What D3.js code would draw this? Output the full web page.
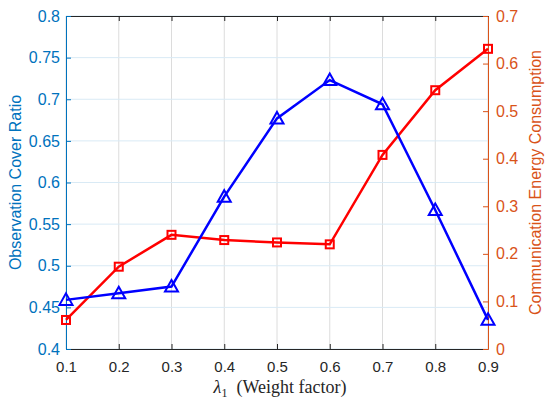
<!DOCTYPE html>
<html>
  <head>
    <script src="https://d3js.org/d3.v7.min.js"></script>
    <style>
      body { margin: 0; background: #fff; }
      svg { font-family: Helvetica, Arial, "Liberation Sans", sans-serif; }
    </style>
  </head>
  <body>
    <div id="chart"></div>
    <script>
      // Data
      const lambdas = [0.1, 0.2, 0.3, 0.4, 0.5, 0.6, 0.7, 0.8, 0.9];
      const coverRatio = [0.459, 0.467, 0.475, 0.583, 0.677, 0.723, 0.694, 0.567, 0.435];
      const energy = [0.061, 0.173, 0.240, 0.229, 0.224, 0.220, 0.408, 0.544, 0.631];
      const xTicks = [0.1, 0.2, 0.3, 0.4, 0.5, 0.6, 0.7, 0.8, 0.9];
      const leftTicks = [0.4, 0.45, 0.5, 0.55, 0.6, 0.65, 0.7, 0.75, 0.8];
      const rightTicks = [0, 0.1, 0.2, 0.3, 0.4, 0.5, 0.6, 0.7];

      const blueAxis = "#0072BD";
      const orangeAxis = "#D95319";

      const margin = { top: 16, right: 62, bottom: 56, left: 66 };
      const width = 550 - margin.left - margin.right;
      const height = 405 - margin.top - margin.bottom;

      const svg = d3.select("#chart")
        .append("svg")
        .attr("width", 550)
        .attr("height", 405)
        .append("g")
        .attr("transform", `translate(${margin.left}, ${margin.top})`);

      const x = d3.scaleLinear().domain([0.1, 0.9]).range([0, width]);
      const yL = d3.scaleLinear().domain([0.4, 0.8]).range([height, 0]);
      const yR = d3.scaleLinear().domain([0, 0.7]).range([height, 0]);

      // Grid
      svg.append("g").selectAll("line")
        .data(xTicks)
        .join("line")
        .attr("x1", d => x(d)).attr("x2", d => x(d))
        .attr("y1", 0).attr("y2", height)
        .attr("stroke", "#dcdcdc").attr("stroke-width", 1);

      svg.append("g").selectAll("line")
        .data(leftTicks)
        .join("line")
        .attr("x1", 0).attr("x2", width)
        .attr("y1", d => yL(d)).attr("y2", d => yL(d))
        .attr("stroke", "#d9eaf5").attr("stroke-width", 1);

      // Axes
      const xAxis = svg.append("g")
        .attr("transform", `translate(0, ${height})`)
        .call(d3.axisBottom(x).tickValues(xTicks).tickSize(-5).tickSizeOuter(0).tickPadding(12).tickFormat(d3.format(".1f")));
      xAxis.select(".domain").attr("stroke", "#262626");
      xAxis.selectAll(".tick line").attr("stroke", "#262626");
      xAxis.selectAll("text").attr("fill", "#262626").style("font-size", "15px");

      const xTop = svg.append("g")
        .call(d3.axisTop(x).tickValues(xTicks).tickSize(-5).tickSizeOuter(0).tickFormat(""));
      xTop.select(".domain").attr("stroke", "#262626");
      xTop.selectAll(".tick line").attr("stroke", "#262626");

      const leftAxis = svg.append("g")
        .call(d3.axisLeft(yL).tickValues(leftTicks).tickSize(-5).tickSizeOuter(0).tickPadding(6).tickFormat(d3.format("~g")));
      leftAxis.select(".domain").attr("stroke", blueAxis);
      leftAxis.selectAll(".tick line").attr("stroke", blueAxis);
      leftAxis.selectAll("text").attr("fill", blueAxis).style("font-size", "16px");

      const rightAxis = svg.append("g")
        .attr("transform", `translate(${width}, 0)`)
        .call(d3.axisRight(yR).tickValues(rightTicks).tickSize(-5).tickSizeOuter(0).tickPadding(8).tickFormat(d3.format("~g")));
      rightAxis.select(".domain").attr("stroke", orangeAxis);
      rightAxis.selectAll(".tick line").attr("stroke", orangeAxis);
      rightAxis.selectAll("text").attr("fill", orangeAxis).style("font-size", "16px");

      const coverData = lambdas.map((l, i) => ({ l, v: coverRatio[i] }));
      const energyData = lambdas.map((l, i) => ({ l, v: energy[i] }));

      // Red line (energy)
      svg.append("path")
        .datum(energyData)
        .attr("fill", "none")
        .attr("stroke", "#ff0000")
        .attr("stroke-width", 2.5)
        .attr("d", d3.line().x(d => x(d.l)).y(d => yR(d.v)));

      svg.append("g").selectAll("rect")
        .data(energyData)
        .join("rect")
        .attr("x", d => x(d.l) - 4)
        .attr("y", d => yR(d.v) - 4)
        .attr("width", 8).attr("height", 8)
        .attr("fill", "none")
        .attr("stroke", "#ff0000")
        .attr("stroke-width", 2);

      // Blue line (cover ratio)
      svg.append("path")
        .datum(coverData)
        .attr("fill", "none")
        .attr("stroke", "#0000ff")
        .attr("stroke-width", 2.5)
        .attr("d", d3.line().x(d => x(d.l)).y(d => yL(d.v)));

      svg.append("g").selectAll("path")
        .data(coverData)
        .join("path")
        .attr("transform", d => `translate(${x(d.l)}, ${yL(d.v)})`)
        .attr("d", "M0,-6.5 L6.5,5 L-6.5,5 Z")
        .attr("fill", "none")
        .attr("stroke", "#0000ff")
        .attr("stroke-width", 2);

      // Labels
      const xl = svg.append("text")
        .attr("x", width / 2 + 3)
        .attr("y", height + 44)
        .attr("text-anchor", "middle")
        .style("font-family", "'Liberation Serif', 'DejaVu Serif', serif")
        .style("font-size", "18px")
        .attr("fill", "#262626");
      xl.append("tspan").style("font-style", "italic").text("λ");
      xl.append("tspan").attr("dy", 4).style("font-size", "12px").text("1");
      xl.append("tspan").attr("dy", -4).text("\u00a0\u00a0(Weight factor)");

      svg.append("text")
        .attr("transform", `translate(${-45}, ${height / 2}) rotate(-90)`)
        .attr("text-anchor", "middle")
        .attr("fill", blueAxis)
        .style("font-size", "16px")
        .text("Observation Cover Ratio");

      svg.append("text")
        .attr("transform", `translate(${width + 53}, ${height / 2}) rotate(-90)`)
        .attr("text-anchor", "middle")
        .attr("fill", orangeAxis)
        .style("font-size", "16px")
        .text("Communication Energy Consumption");
    </script>
  </body>
</html>
